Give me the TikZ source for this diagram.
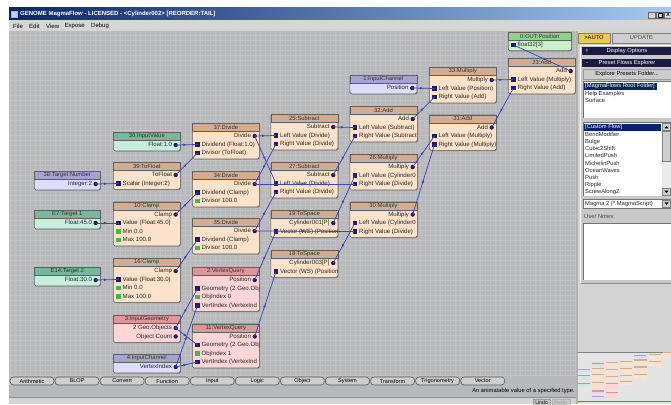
\documentclass[tikz,border=0pt]{standalone}
\usepackage{fontspec}
\setmainfont{Liberation Sans}
\usetikzlibrary{calc,decorations.markings,arrows.meta}
\definecolor{canvasc}{RGB}{183,185,189}
\definecolor{gridc}{RGB}{191,193,197}
\definecolor{orh}{RGB}{214,172,144}
\definecolor{orb}{RGB}{255,226,202}
\definecolor{teh}{RGB}{118,184,154}
\definecolor{teb}{RGB}{202,238,222}
\definecolor{lah}{RGB}{164,164,212}
\definecolor{lab}{RGB}{220,222,250}
\definecolor{pkh}{RGB}{222,150,150}
\definecolor{pkb}{RGB}{255,214,214}
\definecolor{grh}{RGB}{140,210,140}
\definecolor{grb}{RGB}{204,242,204}
\definecolor{nodeborder}{RGB}{95,95,95}
\definecolor{portc}{RGB}{28,28,100}
\definecolor{portg}{RGB}{70,180,70}
\definecolor{wirec}{RGB}{60,70,180}
\definecolor{titleL}{RGB}{10,36,106}
\definecolor{titleR}{RGB}{166,202,240}
\definecolor{menuc}{RGB}{214,214,214}
\definecolor{panelc}{RGB}{212,212,212}
\definecolor{navyc}{RGB}{26,26,66}
\definecolor{selc}{RGB}{10,36,106}
\definecolor{autoc}{RGB}{240,200,90}
\definecolor{btnc}{RGB}{206,206,206}
\definecolor{shadowc}{RGB}{140,142,146}
\definecolor{miniback}{RGB}{228,228,228}

\newcommand\mfnode[8]{%
  \pgfmathsetmacro\mfh{18.5+(#5-1)*8.5}%
  \fill[shadowc,rounded corners=1.5pt] ({#2+1},{#3+1}) rectangle ++(#4,\mfh);
  \node[mfbody, fill=#6b, minimum width=#4pt, minimum height=\mfh pt] (#1) at (#2,#3) {};
  \node[mfhead, fill=#6h, minimum width=#4pt, minimum height=8pt] (#1h) at (#2,#3) {#7};
  \begin{scope}
    \clip (#1.south west) rectangle (#1.north east);
    #8
  \end{scope}
  \begin{scope}
    \clip (578,352) rectangle (671,399);
    \fill[#6h] ({578+(#2-34)*0.179},{369+(#3-171)*0.148}) rectangle ++({#4*0.179},1.2);
    \fill[#6b] ({578+(#2-34)*0.179},{370.2+(#3-171)*0.148}) rectangle ++({#4*0.179},{(\mfh-8)*0.148});
  \end{scope}
}
\newcommand\mfout[3]{%
  \coordinate (#1-o#2) at ($(#1.north east)+(-5,{13+(#2-1)*8.5})$);
  \node[mftxt, anchor=east] (#1-o#2t) at ($(#1-o#2)+(-3.5,0)$) {#3};
  \node[outdot] (#1-o#2d) at (#1-o#2) {};
}
\newcommand\mfin[4]{%
  \coordinate (#1-i#2) at ($(#1.north west)+(5.5,{13+(#2-1)*8.5})$);
  \node[insq, fill=#4] (#1-i#2s) at (#1-i#2) {};
  \node[mftxt, anchor=west] (#1-i#2t) at ($(#1-i#2)+(4,0)$) {#3};
}

\begin{document}
\begin{tikzpicture}[x=1pt,y=-1pt,
  mfbody/.style={draw=nodeborder, line width=0.7pt, rounded corners=1.5pt, inner sep=0, anchor=north west},
  mfhead/.style={draw=nodeborder, line width=0.6pt, inner sep=0, anchor=north west, font=\fontsize{5.9}{6}\selectfont, text=black!80},
  mftxt/.style={inner sep=0, font=\fontsize{6.1}{7}\selectfont, text=black!85, text height=4.4pt, text depth=1.2pt},
  outdot/.style={circle, fill=portc, inner sep=0, minimum size=4.4pt},
  insq/.style={rectangle, inner sep=0, minimum size=4.2pt},
  wire/.style={draw=wirec, line width=0.75pt, postaction={decorate},
    decoration={markings, mark=at position 0.5 with {\arrow{Latex[length=3.2pt,width=2.8pt]}}}},
  tabbtn/.style={draw=black!65, fill=btnc, line width=0.6pt, rounded corners=3.5pt, minimum width=44pt, minimum height=8pt, inner sep=0, font=\fontsize{5.6}{6}\selectfont},
  pantxt/.style={inner sep=0, font=\fontsize{5.8}{6}\selectfont, text=black!85, text height=4.2pt, text depth=1.2pt},
  menutxt/.style={inner sep=0, anchor=west, font=\fontsize{6}{6}\selectfont, text=black},
  winbtn/.style={draw=black!60, fill=menuc, minimum width=7pt, minimum height=6.5pt, inner sep=0, font=\bfseries\fontsize{5}{5}\selectfont}
]
\useasboundingbox (0,0) rectangle (671,404);
\fill[white] (0,0) rectangle (671,404);
% title bar
\shade[left color=titleL, right color=titleR] (9,8) rectangle (671,20);
\node[draw=white!70!black, fill=white!80!blue, minimum size=6pt, inner sep=0] (icon) at (14.5,14) {};
\node[anchor=west, text=white, inner sep=0, font=\bfseries\fontsize{6}{6}\selectfont] (title) at (20,14) {GENOME MagmaFlow - LICENSED - <Cylinder002> [REORDER:TAIL]};
\node[winbtn] (wmin) at (652,15) {\_};
\node[winbtn] (wmax) at (660,15) {};
\draw[black, line width=0.6pt] (658,13) rectangle (662,17);
\node[winbtn] (wcls) at (668,15) {X};
% menu
\fill[menuc] (9,20) rectangle (671,31);
\node[menutxt] (mfile) at (13,26) {File};
\node[menutxt] (medit) at (29,26) {Edit};
\node[menutxt] (mview) at (46,26) {View};
\node[menutxt] (mexp) at (64.5,26) {Expose};
\node[menutxt] (mdbg) at (91,26) {Debug};
% canvas
\fill[canvasc] (9,31) rectangle (576,397);
\draw[gridc, line width=0.3pt, step=5pt] (9,31) grid (576,375);
\fill[menuc!105] (9,397) rectangle (577,404);
\draw[black!45, line width=0.5pt] (9,397) -- (577,397);
% right panel
\fill[panelc] (576,31) rectangle (671,352);
\fill[black!30] (576,31) rectangle (577.5,404);
\fill[panelc!95!black] (580,45) rectangle (671,283);
\draw[white, line width=0.6pt] (580,283) -- (580,45) -- (671,45);
\draw[black!45, line width=0.6pt] (580.5,283) -- (671,283);
\node[draw=black!50, fill=autoc, minimum width=32pt, minimum height=10pt, inner sep=0, font=\fontsize{5.8}{6}\selectfont] (bauto) at (594,38) {>AUTO};
\node[draw=black!50, fill=btnc, minimum width=59pt, minimum height=10pt, inner sep=0, font=\fontsize{5.8}{6}\selectfont, text=black!70] (bupd) at (641.5,38) {UPDATE};
\fill[navyc] (582,47) rectangle (671,55);
\node[pantxt, text=white] (dplus) at (587,51) {+};
\node[pantxt, text=white] (dopt) at (627,51) {Display Options};
\fill[navyc] (582,59) rectangle (671,66.5);
\node[pantxt, text=white] (pminus) at (587,62.5) {-};
\node[pantxt, text=white] (pfe) at (627,62.5) {Preset Flows Explorer};
\node[draw=black!40, fill=btnc!105, minimum width=88pt, minimum height=10pt, inner sep=0, font=\fontsize{5.8}{6}\selectfont] (bexp) at (627,74) {Explore Presets Folder...};
% listbox 1
\fill[white] (583,81) rectangle (671,118);
\draw[black!55, line width=0.5pt] (671,81) -- (583,81) -- (583,118);
\fill[selc] (584,83) rectangle (657,89.5);
\node[pantxt, anchor=west, text=white] (l1a) at (585,86.3) {[MagmaFlows Root Folder]};
\node[pantxt, anchor=west] (l1b) at (585,93.8) {Help Examples};
\node[pantxt, anchor=west] (l1c) at (585,101) {Surface};
% listbox 2
\fill[white] (583,122) rectangle (671,196);
\draw[black!55, line width=0.5pt] (671,122) -- (583,122) -- (583,196);
\fill[selc] (584,124) rectangle (661,130.5);
\node[pantxt, anchor=west, text=white] (l2a) at (585,127.3) {[Custom Flow]};
\node[pantxt, anchor=west] (l2b) at (585,134.6) {BendModifier};
\node[pantxt, anchor=west] (l2c) at (585,141.8) {Bulge};
\node[pantxt, anchor=west] (l2d) at (585,149) {Cubic2Shift};
\node[pantxt, anchor=west] (l2e) at (585,156.3) {LimitedPush};
\node[pantxt, anchor=west] (l2f) at (585,163.5) {MichelinPush};
\node[pantxt, anchor=west] (l2g) at (585,170.8) {OceanWaves};
\node[pantxt, anchor=west] (l2h) at (585,178) {Push};
\node[pantxt, anchor=west] (l2i) at (585,185.2) {Ripple};
\node[pantxt, anchor=west] (l2j) at (585,191.8) {ScrewAlongZ};
\fill[black!8] (662,123) rectangle (671,196);
\node[draw=black!50, fill=btnc, minimum width=8pt, minimum height=7pt, inner sep=0] (sbup) at (666.5,127) {};
\fill[black] (664.5,128.3) -- (668.5,128.3) -- (666.5,125.8) -- cycle;
\node[draw=black!50, fill=btnc, minimum width=8pt, minimum height=30pt, inner sep=0] (sthumb) at (666.5,146) {};
\node[draw=black!50, fill=btnc, minimum width=8pt, minimum height=7pt, inner sep=0] (sbdn) at (666.5,192) {};
\fill[black] (664.5,190.7) -- (668.5,190.7) -- (666.5,193.2) -- cycle;
% dropdown
\fill[white] (583,199) rectangle (671,208);
\draw[black!55, line width=0.5pt] (671,199) -- (583,199) -- (583,208) -- (671,208);
\node[pantxt, anchor=west] (ddt) at (585,203.6) {Magma 2 (*.MagmaScript)};
\node[draw=black!50, fill=btnc, minimum width=8pt, minimum height=7.5pt, inner sep=0] (ddb) at (666.5,203.5) {};
\fill[black] (664.5,202.3) -- (668.5,202.3) -- (666.5,204.8) -- cycle;
\node[pantxt, anchor=west, text=black!70] (unl) at (584,217) {User Notes:};
\fill[white] (583,223) rectangle (671,280);
\draw[black!55, line width=0.5pt] (671,223) -- (583,223) -- (583,280);
% minimap
\fill[miniback] (577.5,352) rectangle (671,404);
\draw[black!50, line width=0.5pt] (577.5,352) -- (671,352);
\draw[wirec!80, line width=0.8pt] (577.5,401.5) -- (671,401.5);

% ---------- nodes ----------
\mfnode{n0}{508}{32}{63}{1}{gr}{0:OUT:Position}{\mfin{n0}{1}{float32[3]}{portc}}
\mfnode{n38}{34}{171}{66}{1}{la}{38:Target Number}{\mfout{n38}{1}{Integer:2}}
\mfnode{nE7}{34}{210}{66}{1}{te}{E7:Target 1}{\mfout{nE7}{1}{Float:45.0}}
\mfnode{nE14}{34}{267}{66}{1}{te}{E14:Target 2}{\mfout{nE14}{1}{Float:30.0}}
\mfnode{n36}{113}{132}{67}{1}{te}{36:InputValue}{\mfout{n36}{1}{Float:1.0}}
\mfnode{n39}{113}{162}{67}{2}{or}{39:ToFloat}{\mfout{n39}{1}{ToFloat}\mfin{n39}{2}{Scalar (Integer:2)}{portc}}
\mfnode{n10}{113}{201.5}{67}{4}{or}{10:Clamp}{\mfout{n10}{1}{Clamp}\mfin{n10}{2}{Value (Float:45.0)}{portc}\mfin{n10}{3}{Min 0.0}{portg}\mfin{n10}{4}{Max 100.0}{portg}}
\mfnode{n16}{113}{258}{67}{4}{or}{16:Clamp}{\mfout{n16}{1}{Clamp}\mfin{n16}{2}{Value (Float:30.0)}{portc}\mfin{n16}{3}{Min 0.0}{portg}\mfin{n16}{4}{Max 100.0}{portg}}
\mfnode{n3}{113}{315}{67}{2}{pk}{3:InputGeometry}{\mfout{n3}{1}{2 Geo.Objects}\mfout{n3}{2}{Object Count}}
\mfnode{n4}{113}{354}{67}{1}{la}{4:InputChannel}{\mfout{n4}{1}{VertexIndex}}
\mfnode{n37}{192}{123}{67}{3}{or}{37:Divide}{\mfout{n37}{1}{Divide}\mfin{n37}{2}{Dividend (Float:1.0)}{portc}\mfin{n37}{3}{Divisor (ToFloat)}{portc}}
\mfnode{n34}{192}{171}{67}{3}{or}{34:Divide}{\mfout{n34}{1}{Divide}\mfin{n34}{2}{Dividend (Clamp)}{portc}\mfin{n34}{3}{Divisor 100.0}{portg}}
\mfnode{n35}{192}{218}{67}{3}{or}{35:Divide}{\mfout{n35}{1}{Divide}\mfin{n35}{2}{Dividend (Clamp)}{portc}\mfin{n35}{3}{Divisor 100.0}{portg}}
\mfnode{n2}{192}{267}{67}{4}{pk}{2:VertexQuery}{\mfout{n2}{1}{Position}\mfin{n2}{2}{Geometry (2 Geo.Obj}{portc}\mfin{n2}{3}{ObjIndex 0}{portg}\mfin{n2}{4}{VertIndex (VertexInd}{portc}}
\mfnode{n11}{192}{323.5}{67}{4}{pk}{11:VertexQuery}{\mfout{n11}{1}{Position}\mfin{n11}{2}{Geometry (2 Geo.Obj}{portc}\mfin{n11}{3}{ObjIndex 1}{portg}\mfin{n11}{4}{VertIndex (VertexInd}{portc}}
\mfnode{n25}{270.5}{114}{67}{3}{or}{25:Subtract}{\mfout{n25}{1}{Subtract}\mfin{n25}{2}{Left Value (Divide)}{portc}\mfin{n25}{3}{Right Value (Divide)}{portc}}
\mfnode{n27}{270.5}{162}{67}{3}{or}{27:Subtract}{\mfout{n27}{1}{Subtract}\mfin{n27}{2}{Left Value (Divide)}{portc}\mfin{n27}{3}{Right Value (Divide)}{portc}}
\mfnode{n19}{270.5}{210}{67}{2}{or}{19:ToSpace}{\mfout{n19}{1}{Cylinder001[P]}\mfin{n19}{2}{Vector (WS) (Position}{portc}}
\mfnode{n18}{270.5}{250}{67}{2}{or}{18:ToSpace}{\mfout{n18}{1}{Cylinder003[P]}\mfin{n18}{2}{Vector (WS) (Position}{portc}}
\mfnode{n1}{349.5}{75}{67}{1}{la}{1:InputChannel}{\mfout{n1}{1}{Position}}
\mfnode{n32}{349.5}{106}{67.5}{3}{or}{32:Add}{\mfout{n32}{1}{Add}\mfin{n32}{2}{Left Value (Subtract)}{portc}\mfin{n32}{3}{Right Value (Subtract}{portc}}
\mfnode{n26}{349.5}{154}{67.5}{3}{or}{26:Multiply}{\mfout{n26}{1}{Multiply}\mfin{n26}{2}{Left Value (Cylinder0}{portc}\mfin{n26}{3}{Right Value (Divide)}{portc}}
\mfnode{n30}{349.5}{201.5}{67.5}{3}{or}{30:Multiply}{\mfout{n30}{1}{Multiply}\mfin{n30}{2}{Left Value (Cylinder0}{portc}\mfin{n30}{3}{Right Value (Divide)}{portc}}
\mfnode{n33}{429}{67}{67}{3}{or}{33:Multiply}{\mfout{n33}{1}{Multiply}\mfin{n33}{2}{Left Value (Position)}{portc}\mfin{n33}{3}{Right Value (Add)}{portc}}
\mfnode{n31}{429}{114.5}{67}{3}{or}{31:Add}{\mfout{n31}{1}{Add}\mfin{n31}{2}{Left Value (Multiply)}{portc}\mfin{n31}{3}{Right Value (Multiply)}{portc}}
\mfnode{n23}{508}{58}{67}{3}{or}{23:Add}{\mfout{n23}{1}{Add}\mfin{n23}{2}{Left Value (Multiply)}{portc}\mfin{n23}{3}{Right Value (Add)}{portc}}

% ---------- wires ----------
\draw[wire] (n38-o1) -- (n39-i2);
\draw[wire] (nE7-o1) -- (n10-i2);
\draw[wire] (nE14-o1) -- (n16-i2);
\draw[wire] (n36-o1) -- (n37-i2);
\draw[wire] (n39-o1) -- (n37-i3);
\draw[wire] (n10-o1) -- (n34-i2);
\draw[wire] (n16-o1) -- (n35-i2);
\draw[wire] (n3-o1) -- (n2-i2);
\draw[wire] (n3-o1) -- (n11-i2);
\draw[wire] (n4-o1) -- (n2-i4);
\draw[wire] (n4-o1) -- (n11-i4);
\draw[wire] (n37-o1) -- (n25-i2);
\draw[wire] (n37-o1) -- (n27-i2);
\draw[wire] (n34-o1) -- (n25-i3);
\draw[wire] (n34-o1) -- (n26-i3);
\draw[wire] (n35-o1) -- (n27-i3);
\draw[wire] (n35-o1) -- (n30-i3);
\draw[wire] (n2-o1) -- (n19-i2);
\draw[wire] (n11-o1) -- (n18-i2);
\draw[wire] (n25-o1) -- (n32-i2);
\draw[wire] (n27-o1) -- (n32-i3);
\draw[wire] (n19-o1) -- (n26-i2);
\draw[wire] (n18-o1) -- (n30-i2);
\draw[wire] (n26-o1) -- (n31-i2);
\draw[wire] (n30-o1) -- (n31-i3);
\draw[wire] (n32-o1) -- (n33-i3);
\draw[wire] (n1-o1) -- (n33-i2);
\draw[wire] (n33-o1) -- (n23-i2);
\draw[wire] (n31-o1) -- (n23-i3);
\draw[wire] (n23-o1) -- (n0-i1);

% ---------- tabs & status ----------
\foreach \t [count=\i from 0] in {Arithmetic,BLOP,Convert,Function,Input,Logic,Object,System,Transform,Trigonometry,Vector} {
  \node[tabbtn] (tab\i) at ({32+45.07*\i},381) {\t};
}
\node[inner sep=0, anchor=east, font=\fontsize{5.8}{6}\selectfont] (status) at (575,391) {An animatable value of a specified type.};
\node[draw=black!40, fill=btnc!110, minimum width=17pt, minimum height=7pt, inner sep=0, font=\fontsize{5.2}{5}\selectfont, anchor=north west] (undo) at (533,398.5) {Undo};
\node[draw=black!30, fill=btnc!110, minimum width=18pt, minimum height=7pt, inner sep=0, font=\fontsize{5.2}{5}\selectfont, text=black!40, anchor=north west] (redo) at (551.5,398.5) {Redo};
\end{tikzpicture}
\end{document}
